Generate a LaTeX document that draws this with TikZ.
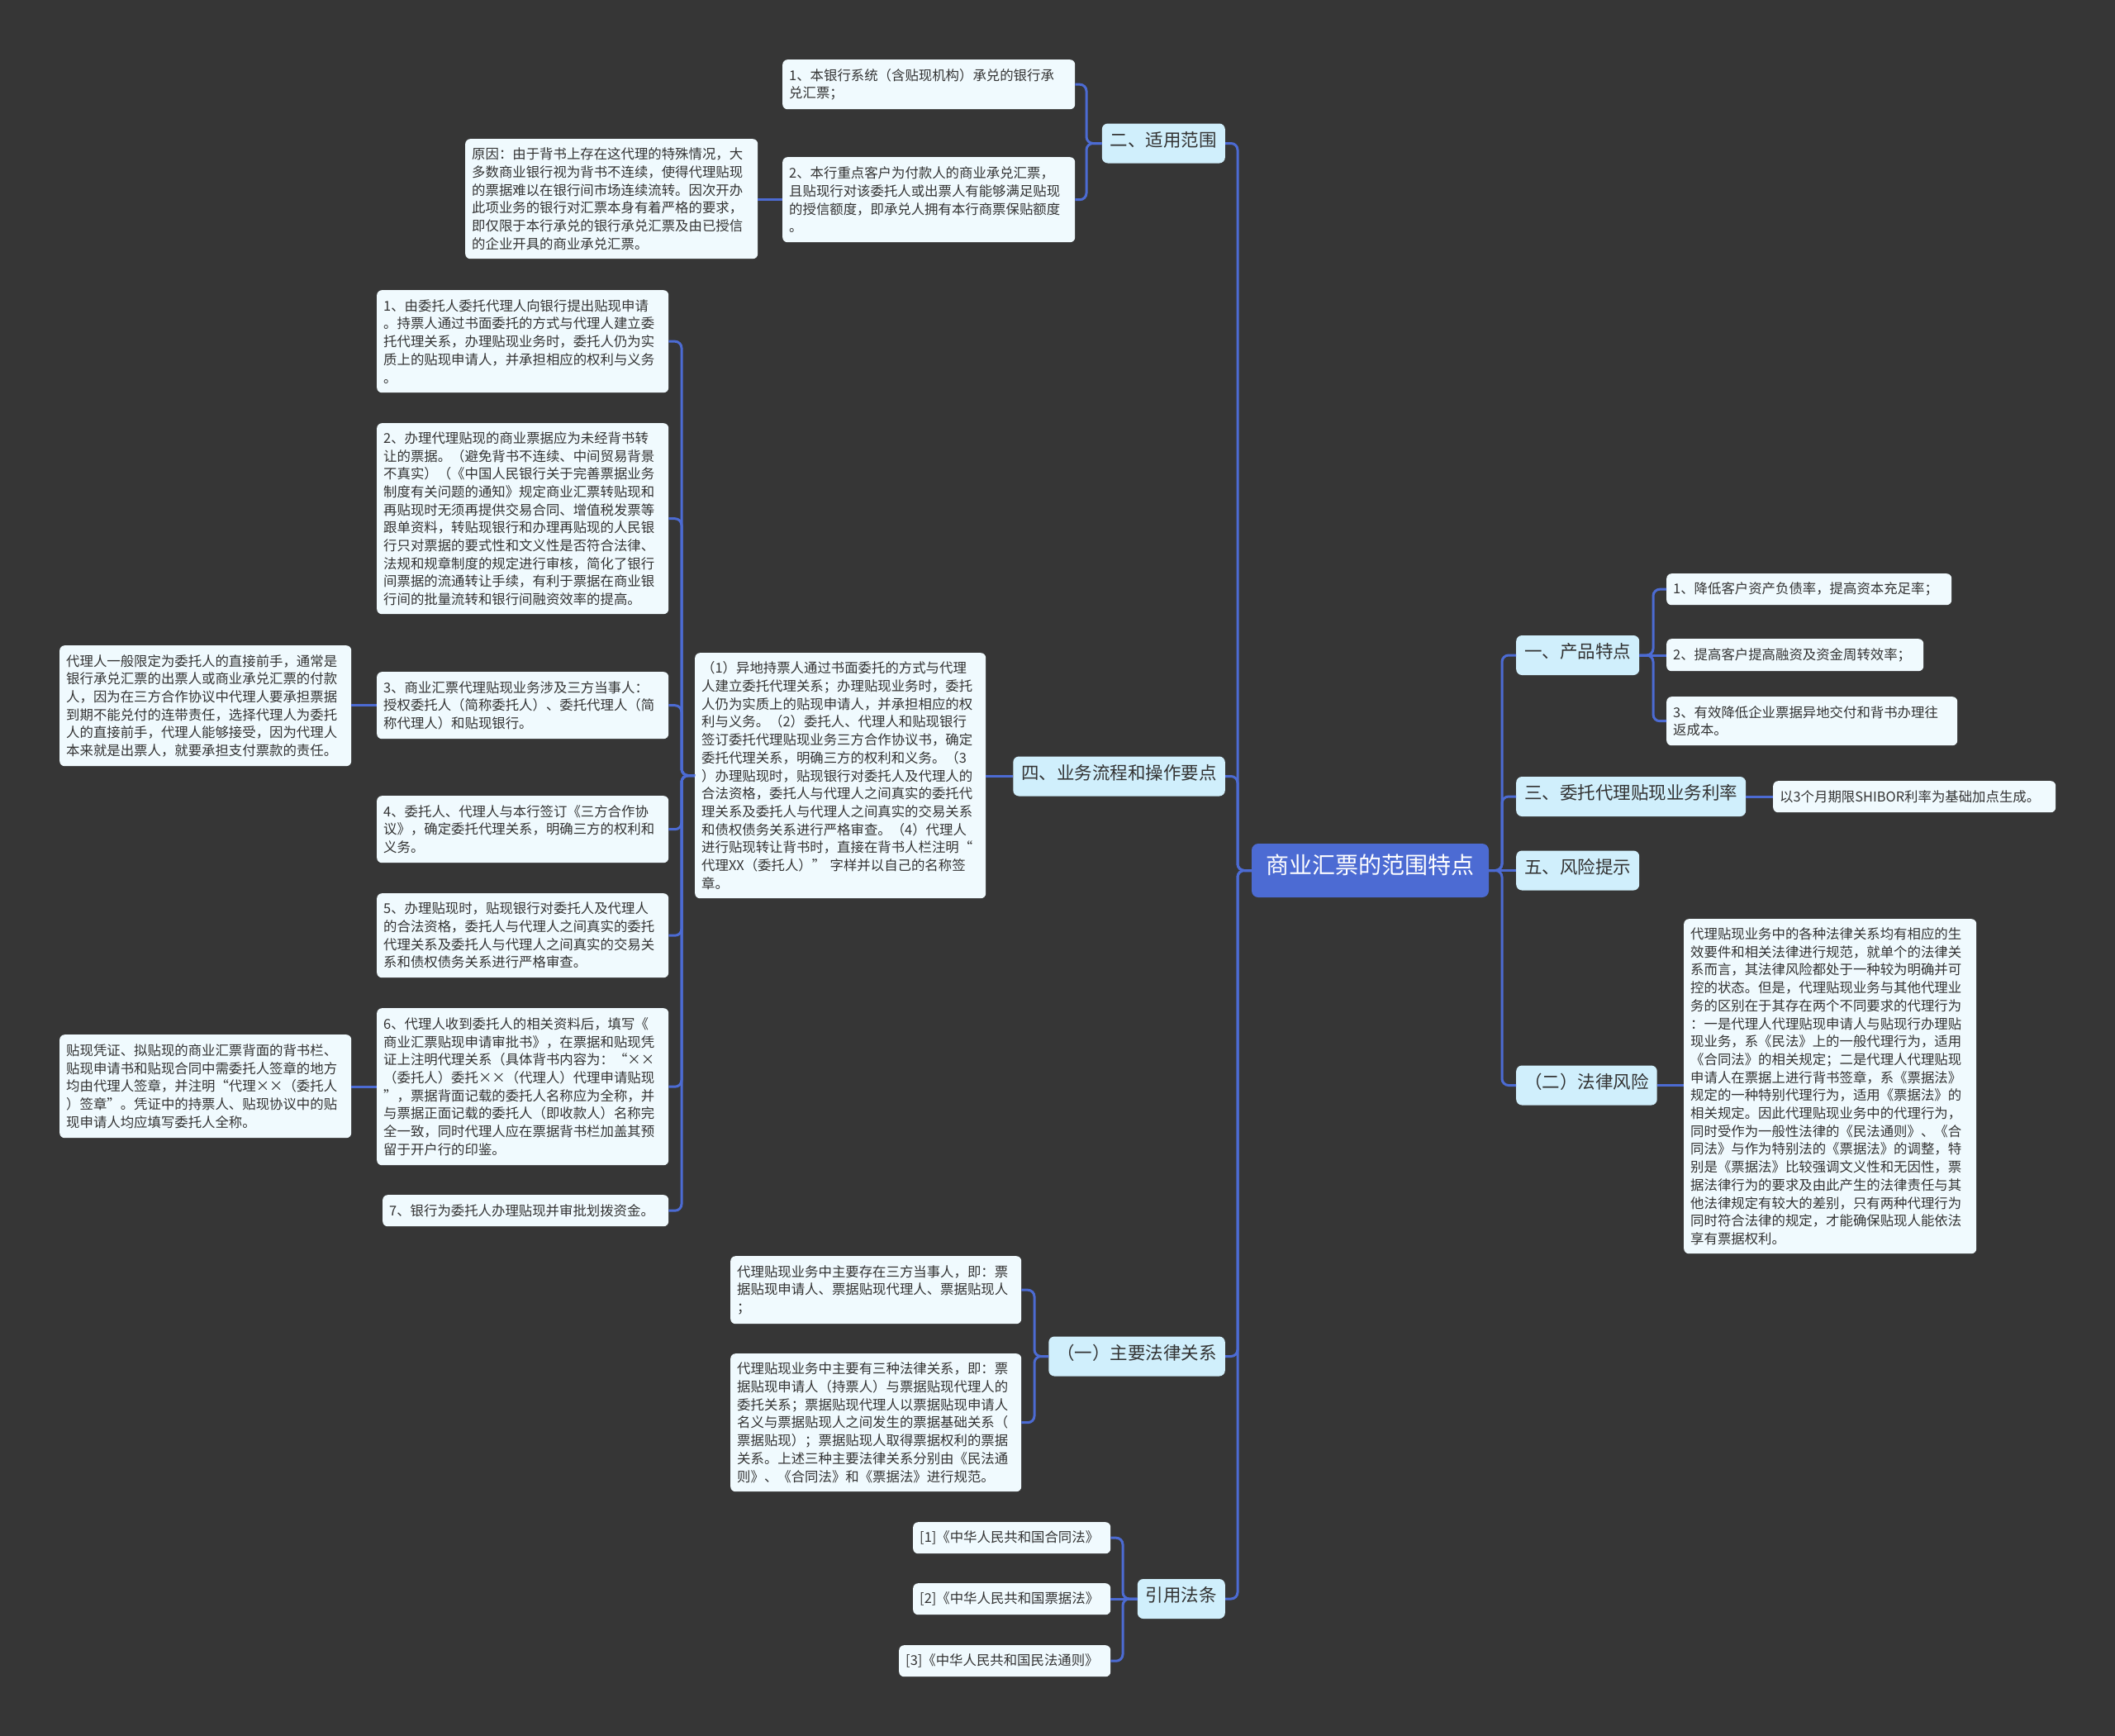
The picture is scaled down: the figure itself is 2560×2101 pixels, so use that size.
\documentclass[tikz,border=0pt]{standalone}
\usepackage{fontspec}
\setmainfont{Noto Sans CJK SC}
\usepackage{tikz}
\definecolor{fond}{HTML}{363636}
\definecolor{bleu}{HTML}{4C6BD3}
\definecolor{ciel}{HTML}{D0EFFC}
\definecolor{pale}{HTML}{F0FAFE}
\definecolor{encre}{HTML}{333333}
\usetikzlibrary{calc}

\begin{document}
\begin{tikzpicture}[x=1pt,y=-1pt,
  lien/.style={bleu,line width=3pt,rounded corners=8pt},
  boite/.style={fill=pale,text=encre,rounded corners=6pt,anchor=north west,align=left,inner xsep=8pt,inner ysep=6pt,font=\fontsize{16.4}{21.7}\selectfont},
  branche/.style={fill=ciel,text=encre,rounded corners=7pt,inner xsep=10pt,minimum height=48pt,text height=0.83em,text depth=0.07em,font=\fontsize{21.5}{24}\selectfont},
  centre/.style={fill=bleu,text=white,rounded corners=8pt,minimum width=287pt,minimum height=65pt,text height=0.83em,text depth=0.07em,font=\fontsize{28}{32}\selectfont}]

  % fond
\fill[fond] (0,0) rectangle (2560,2101);
\useasboundingbox (0,0) rectangle (2560,2101);

  % racine
\node[centre] (rc) at (1658.5,1053.5) {商业汇票的范围特点};

  % branches gauche
\node[branche,anchor=east] (n2) at (1483,173.5) {二、适用范围};
\node[branche,anchor=east] (n4) at (1483,939.5) {四、业务流程和操作要点};
\node[branche,anchor=east] (k1) at (1483,1641.5) {（一）主要法律关系};
\node[branche,anchor=east] (law) at (1483,1935) {引用法条};

  % branches droite
\node[branche,anchor=west] (n1) at (1835,793) {一、产品特点};
\node[branche,anchor=west] (n3) at (1835,964) {三、委托代理贴现业务利率};
\node[branche,anchor=west] (n5) at (1835,1053.5) {五、风险提示};
\node[branche,anchor=west] (k2) at (1835,1313.5) {（二）法律风险};

  % 二、适用范围
\node[boite,text width=338pt,minimum height=60pt] (a1) at (947,72) {1、本银行系统（含贴现机构）承兑的银行承\\兑汇票；};
\node[boite,text width=338pt,minimum height=103pt] (a2) at (947,190) {2、本行重点客户为付款人的商业承兑汇票，\\且贴现行对该委托人或出票人有能够满足贴现\\的授信额度，即承兑人拥有本行商票保贴额度\\。};
\node[boite,text width=338pt,minimum height=145pt] (why) at (563,168) {原因：由于背书上存在这代理的特殊情况，大\\多数商业银行视为背书不连续，使得代理贴现\\的票据难以在银行间市场连续流转。因次开办\\此项业务的银行对汇票本身有着严格的要求，\\即仅限于本行承兑的银行承兑汇票及由已授信\\的企业开具的商业承兑汇票。};

  % 四、业务流程和操作要点
\node[boite,text width=336pt,minimum height=297pt] (b8) at (841,790) {（1）异地持票人通过书面委托的方式与代理\\人建立委托代理关系；办理贴现业务时，委托\\人仍为实质上的贴现申请人，并承担相应的权\\利与义务。（2）委托人、代理人和贴现银行\\签订委托代理贴现业务三方合作协议书，确定\\委托代理关系，明确三方的权利和义务。（3\\）办理贴现时，贴现银行对委托人及代理人的\\合法资格，委托人与代理人之间真实的委托代\\理关系及委托人与代理人之间真实的交易关系\\和债权债务关系进行严格审查。（4）代理人\\进行贴现转让背书时，直接在背书人栏注明“\\代理XX（委托人）” 字样并以自己的名称签\\章。};
\node[boite,text width=337pt,minimum height=124pt] (b1) at (456,351) {1、由委托人委托代理人向银行提出贴现申请\\。持票人通过书面委托的方式与代理人建立委\\托代理关系，办理贴现业务时，委托人仍为实\\质上的贴现申请人，并承担相应的权利与义务\\。};
\node[boite,text width=337pt,minimum height=231pt] (b2) at (456,512) {2、办理代理贴现的商业票据应为未经背书转\\让的票据。（避免背书不连续、中间贸易背景\\不真实）（《中国人民银行关于完善票据业务\\制度有关问题的通知》规定商业汇票转贴现和\\再贴现时无须再提供交易合同、增值税发票等\\跟单资料，转贴现银行和办理再贴现的人民银\\行只对票据的要式性和文义性是否符合法律、\\法规和规章制度的规定进行审核，简化了银行\\间票据的流通转让手续，有利于票据在商业银\\行间的批量流转和银行间融资效率的提高。};
\node[boite,text width=337pt,minimum height=81pt] (b3) at (456,813) {3、商业汇票代理贴现业务涉及三方当事人：\\授权委托人（简称委托人）、委托代理人（简\\称代理人）和贴现银行。};
\node[boite,text width=337pt,minimum height=81pt] (b4) at (456,963) {4、委托人、代理人与本行签订《三方合作协\\议》，确定委托代理关系，明确三方的权利和\\义务。};
\node[boite,text width=337pt,minimum height=102pt] (b5) at (456,1081) {5、办理贴现时，贴现银行对委托人及代理人\\的合法资格，委托人与代理人之间真实的委托\\代理关系及委托人与代理人之间真实的交易关\\系和债权债务关系进行严格审查。};
\node[boite,text width=337pt,minimum height=190pt] (b6) at (456,1220) {6、代理人收到委托人的相关资料后，填写《\\商业汇票贴现申请审批书》，在票据和贴现凭\\证上注明代理关系（具体背书内容为：“××\\（委托人）委托××（代理人）代理申请贴现\\”，票据背面记载的委托人名称应为全称，并\\与票据正面记载的委托人（即收款人）名称完\\全一致，同时代理人应在票据背书栏加盖其预\\留于开户行的印鉴。};
\node[boite,text width=330pt,minimum height=38pt] (b7) at (463,1446) {7、银行为委托人办理贴现并审批划拨资金。};
\node[boite,text width=337pt,minimum height=146pt] (c3) at (72,781) {代理人一般限定为委托人的直接前手，通常是\\银行承兑汇票的出票人或商业承兑汇票的付款\\人，因为在三方合作协议中代理人要承担票据\\到期不能兑付的连带责任，选择代理人为委托\\人的直接前手，代理人能够接受，因为代理人\\本来就是出票人，就要承担支付票款的责任。};
\node[boite,text width=337pt,minimum height=125pt] (c6) at (72,1252) {贴现凭证、拟贴现的商业汇票背面的背书栏、\\贴现申请书和贴现合同中需委托人签章的地方\\均由代理人签章，并注明“代理××（委托人\\）签章”。凭证中的持票人、贴现协议中的贴\\现申请人均应填写委托人全称。};

  % （一）主要法律关系
\node[boite,text width=336pt,minimum height=82pt] (d1) at (884,1520) {代理贴现业务中主要存在三方当事人，即：票\\据贴现申请人、票据贴现代理人、票据贴现人\\；};
\node[boite,text width=336pt,minimum height=167pt] (d2) at (884,1638) {代理贴现业务中主要有三种法律关系，即：票\\据贴现申请人（持票人）与票据贴现代理人的\\委托关系；票据贴现代理人以票据贴现申请人\\名义与票据贴现人之间发生的票据基础关系（\\票据贴现）；票据贴现人取得票据权利的票据\\关系。上述三种主要法律关系分别由《民法通\\则》、《合同法》和《票据法》进行规范。};

  % 引用法条
\node[boite,text width=223pt,minimum height=38pt] (e1) at (1105,1842) {[1]《中华人民共和国合同法》};
\node[boite,text width=223pt,minimum height=38pt] (e2) at (1105,1916) {[2]《中华人民共和国票据法》};
\node[boite,text width=240pt,minimum height=38pt] (e3) at (1088,1991) {[3]《中华人民共和国民法通则》};

  % 一、产品特点
\node[boite,text width=329pt,minimum height=38pt] (f1) at (2017,694) {1、降低客户资产负债率，提高资本充足率；};
\node[boite,text width=295pt,minimum height=39pt] (f2) at (2017,773) {2、提高客户提高融资及资金周转效率；};
\node[boite,text width=336pt,minimum height=59pt] (f3) at (2017,843) {3、有效降低企业票据异地交付和背书办理往\\返成本。};

  % 三、利率
\node[boite,text width=326pt,minimum height=38pt] (g1) at (2146,945) {以3个月期限SHIBOR利率为基础加点生成。};

  % （二）法律风险
\node[boite,text width=338pt,minimum height=405pt] (h1) at (2038,1112) {代理贴现业务中的各种法律关系均有相应的生\\效要件和相关法律进行规范，就单个的法律关\\系而言，其法律风险都处于一种较为明确并可\\控的状态。但是，代理贴现业务与其他代理业\\务的区别在于其存在两个不同要求的代理行为\\：一是代理人代理贴现申请人与贴现行办理贴\\现业务，系《民法》上的一般代理行为，适用\\《合同法》的相关规定；二是代理人代理贴现\\申请人在票据上进行背书签章，系《票据法》\\规定的一种特别代理行为，适用《票据法》的\\相关规定。因此代理贴现业务中的代理行为，\\同时受作为一般性法律的《民法通则》、《合\\同法》与作为特别法的《票据法》的调整，特\\别是《票据法》比较强调文义性和无因性，票\\据法律行为的要求及由此产生的法律责任与其\\他法律规定有较大的差别，只有两种代理行为\\同时符合法律的规定，才能确保贴现人能依法\\享有票据权利。};

  % liens
\coordinate (tg) at (1498,1053.5);
\coordinate (td) at (1818,1053.5);
\foreach \n in {n2,n4,k1,law}
  \draw[lien] (rc.west) -- (tg) |- (\n.east);
\foreach \n in {n1,n3,k2}
  \draw[lien] (rc.east) -- (td) |- (\n.west);
\draw[lien] (rc.east) -- (n5.west);

\coordinate (t2) at (1315,173.5);
\foreach \n in {a1,a2}
  \draw[lien] (n2.west) -- (t2) |- (\n.east);
\draw[lien] (a2.west) -- (why.east |- a2.west);

\draw[lien] (n4.west) -- (b8.east |- n4.west);
\coordinate (t8) at (825,938.5);
\foreach \n in {b1,b2,b3,b4,b5,b6,b7}
  \draw[lien] (b8.west) -- (t8) |- (\n.east);
\draw[lien] (b3.west) -- (c3.east |- b3.west);
\draw[lien] (b6.west) -- (c6.east |- b6.west);

\coordinate (tk) at (1252,1641.5);
\foreach \n in {d1,d2}
  \draw[lien] (k1.west) -- (tk) |- (\n.east);

\coordinate (tl) at (1359,1935);
\foreach \n in {e1,e3}
  \draw[lien] (law.west) -- (tl) |- (\n.east);
\draw[lien] (law.west) -- (e2.east |- law.west);

\coordinate (t1) at (2001,793);
\foreach \n in {f1,f3}
  \draw[lien] (n1.east) -- (t1) |- (\n.west);
\draw[lien] (n1.east) -- (f2.west |- n1.east);

\draw[lien] (n3.east) -- (g1.west |- n3.east);
\draw[lien] (k2.east) -- (h1.west |- k2.east);
\end{tikzpicture}
\end{document}
